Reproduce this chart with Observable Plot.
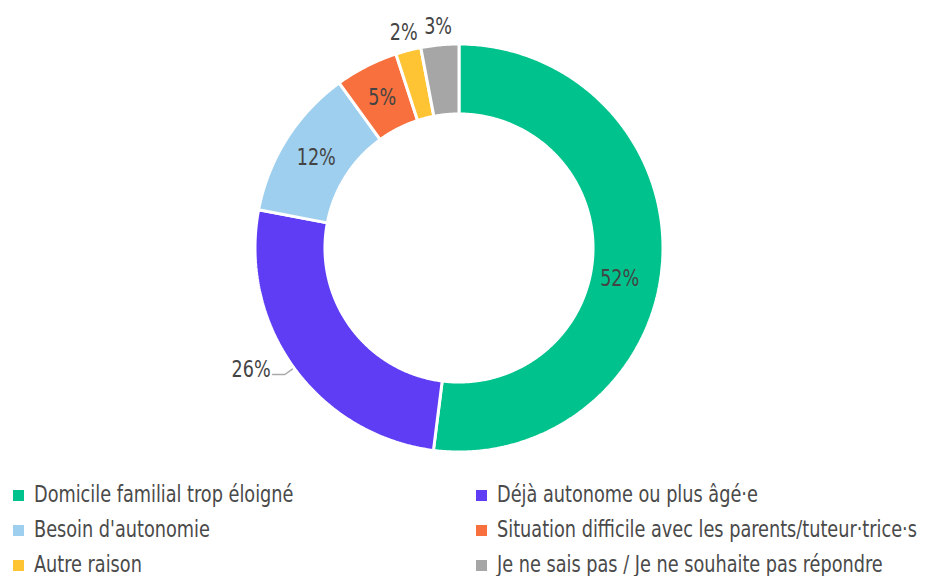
<!DOCTYPE html>
<html>
<head>
<meta charset="utf-8">
<script src="https://cdn.jsdelivr.net/npm/d3@7"></script>
<script src="https://cdn.jsdelivr.net/npm/@observablehq/plot@0.6"></script>
<style>
  body { margin: 0; background: #fff; font-family: "DejaVu Sans Condensed", "DejaVu Sans", sans-serif; font-stretch: condensed; }
  #legend { display: grid; grid-template-columns: 463px 451px; padding-left: 13px; color: #4a4a4a; font-size: 23px; }
  #legend .item { height: 35px; display: flex; align-items: center; white-space: nowrap; }
  #legend .sw { width: 11px; height: 11px; margin-right: 10px; margin-top: 3px; flex: none; }
  #legend .tx { display: inline-block; transform: scaleX(0.855); transform-origin: left center; }
</style>
</head>
<body>
<div id="chart"></div>
<div id="legend"></div>
<script>
const categories = [
  "Domicile familial trop éloigné",
  "Déjà autonome ou plus âgé·e",
  "Besoin d'autonomie",
  "Situation difficile avec les parents/tuteur·trice·s",
  "Autre raison",
  "Je ne sais pas / Je ne souhaite pas répondre"
];
const values = [52, 26, 12, 5, 2, 3];
const colors = ["#00c28c", "#5e3df5", "#9ecfee", "#f8703d", "#ffc433", "#a6a6a6"];

const INNER = 0.657, OUTER = 1;
const data = categories.map((c, i) => ({cat: c, value: values[i], color: colors[i]}));
const arcs = d3.pie().sort(null).value(d => d.value)(data);

const pt = (a, r) => ({x: Math.sin(a) * r, y: Math.cos(a) * r});

// slice polygons
const poly = [];
arcs.forEach(a => {
  const n = Math.max(4, Math.ceil((a.endAngle - a.startAngle) / (Math.PI / 360)));
  const pts = [];
  for (let k = 0; k <= n; k++) pts.push(pt(a.startAngle + (a.endAngle - a.startAngle) * k / n, OUTER));
  for (let k = n; k >= 0; k--) pts.push(pt(a.startAngle + (a.endAngle - a.startAngle) * k / n, INNER));
  pts.push(pts[0]);
  pts.forEach(p => poly.push({...p, cat: a.data.cat}));
});

// labels
const inside = [], above = [], leaderLabels = [], leaders = [];
arcs.forEach((a, i) => {
  const mid = (a.startAngle + a.endAngle) / 2;
  const text = a.data.value + "%";
  const dark = d3.lab(a.data.color).l < 50;
  if (a.data.value < 4) {
    above.push({...pt(mid, 1.09), text});
  } else if (dark) {
    const p1 = pt(mid, 1.01), p2 = pt(mid, 1.055);
    const p3 = {x: p2.x + (p2.x < 0 ? -0.06 : 0.06), y: p2.y};
    [p1, p2, p3].forEach(p => leaders.push({...p, id: i}));
    leaderLabels.push({x: p3.x + (p3.x < 0 ? -0.01 : 0.01), y: p3.y, text});
  } else {
    inside.push({...pt(mid, (INNER + OUTER) / 2), text, big: a.data.value > 50});
  }
});

const font = '"DejaVu Sans Condensed", "DejaVu Sans", sans-serif';
const plot = Plot.plot({
  width: 927,
  height: 476,
  margin: 0,
  x: {domain: [-1, 1], range: [254.5, 662.5], axis: null},
  y: {domain: [-1, 1], range: [451.5, 43.5], axis: null},
  color: {domain: categories, range: colors},
  style: {fontFamily: font, background: "white"},
  marks: [
    Plot.line(poly, {x: "x", y: "y", z: "cat", fill: "cat", stroke: "white", strokeWidth: 3, curve: "linear", strokeLinejoin: "miter"}),
    Plot.text(inside.filter(d => !d.big), {x: "x", y: "y", text: "text", fill: "#444", fontSize: 23, className: "lbl"}),
    Plot.text(inside.filter(d => d.big), {x: "x", y: "y", text: "text", fill: "#444", fontSize: 23, dx: -8, dy: 20, className: "lbl"}),
    Plot.text(above, {x: "x", y: "y", text: "text", fill: "#444", fontSize: 23, className: "lbl"}),
    Plot.line(leaders, {x: "x", y: "y", z: "id", stroke: "#aaa", strokeWidth: 1.5}),
    Plot.text(leaderLabels, {x: "x", y: "y", text: "text", textAnchor: "end", lineAnchor: "bottom", dy: 2, fill: "#444", fontSize: 23, className: "lbl"})
  ]
});
// condense label glyphs horizontally around their anchor point
plot.querySelectorAll(".lbl text").forEach(t => {
  const tr = t.getAttribute("transform") || "";
  t.setAttribute("transform", (tr + " scale(0.85,1)").trim());
});
document.getElementById("chart").append(plot);

const legend = document.getElementById("legend");
categories.forEach((c, i) => {
  const item = document.createElement("div");
  item.className = "item";
  const sw = document.createElement("span");
  sw.className = "sw";
  sw.style.background = colors[i];
  const t = document.createElement("span");
  t.className = "tx";
  t.textContent = c;
  item.append(sw, t);
  legend.append(item);
});
</script>
</body>
</html>
